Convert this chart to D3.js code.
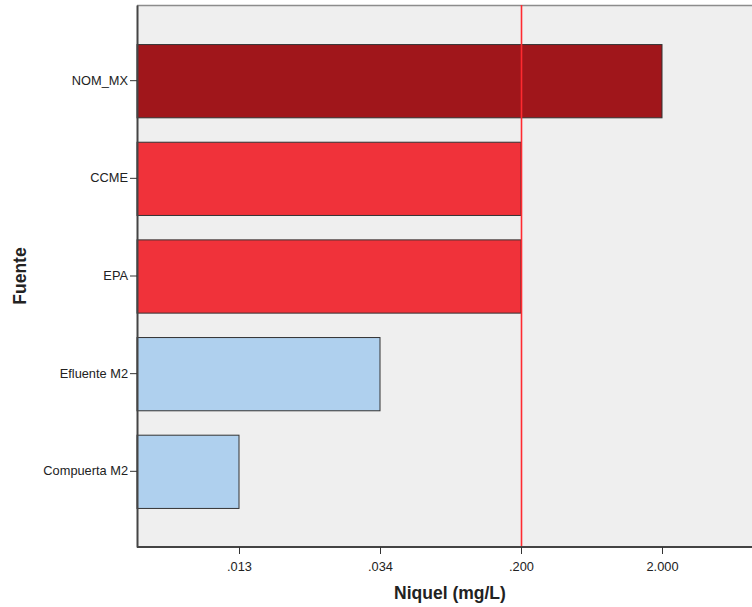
<!DOCTYPE html>
<html><head><meta charset="utf-8">
<script src="https://cdn.jsdelivr.net/npm/d3@7"></script>
<style>body{margin:0;background:#fff}svg{display:block}</style>
</head><body>
<svg id="c" width="752" height="607"></svg>
<script>
const categories = ["NOM_MX", "CCME", "EPA", "Efluente M2", "Compuerta M2"];
const values = [2.0, 0.2, 0.2, 0.034, 0.013];
const barColors = ["#a0161b", "#f0323a", "#f0323a", "#afd0ee", "#afd0ee"];
const tickValues = [0.013, 0.034, 0.2, 2.0];
const tickLabels = [".013", ".034", ".200", "2.000"];
const refValue = 0.2;
const xTitle = "Niquel (mg/L)";
const yTitle = "Fuente";

(function () {
const svg = d3.select("#c");
const pLeft = 137, pTop = 5, pBottom = 547, pRight = 760;
const font = "'Liberation Sans', Arial, sans-serif";

// piecewise scale: axis equally spaces the observed values
const x = d3.scaleLinear().domain([0].concat(tickValues)).range([137, 239, 380, 521, 662]);
const y = d3.scaleBand().domain(categories).range([pTop, pBottom]).paddingInner(0.25).paddingOuter(0.4);

svg.append("rect").attr("x", pLeft).attr("y", pTop).attr("width", pRight - pLeft).attr("height", pBottom - pTop).attr("fill", "#efefef");
svg.append("line").attr("x1", pLeft).attr("x2", pRight).attr("y1", pTop + 0.5).attr("y2", pTop + 0.5).attr("stroke", "#8c8c8c").attr("stroke-width", 1.5);

svg.selectAll("rect.bar").data(categories).enter().append("rect").attr("class", "bar")
  .attr("x", x(0)).attr("y", d => y(d) + 0.5)
  .attr("width", (d, i) => x(values[i]) - x(0)).attr("height", y.bandwidth())
  .attr("fill", (d, i) => barColors[i]).attr("stroke", "#333").attr("stroke-width", 1);

svg.append("line").attr("x1", x(refValue) + 0.5).attr("x2", x(refValue) + 0.5).attr("y1", pTop).attr("y2", pBottom)
  .attr("stroke", "#ff2a30").attr("stroke-width", 1.6);

const ya = svg.append("g").attr("transform", `translate(${pLeft},0)`).call(d3.axisLeft(y).tickSize(7).tickSizeOuter(0).tickPadding(2));
ya.select(".domain").attr("stroke", "#444").attr("stroke-width", 2);
ya.selectAll(".tick line").attr("stroke", "#333");
ya.selectAll("text").attr("font-family", font).attr("font-size", 12.8).attr("fill", "#222");

const xa = svg.append("g").attr("transform", `translate(0,${pBottom})`)
  .call(d3.axisBottom(x).tickValues(tickValues).tickFormat((d, i) => tickLabels[i]).tickSize(7).tickSizeOuter(0).tickPadding(8));
xa.select(".domain").attr("stroke", "#444").attr("stroke-width", 2).attr("d", `M${pLeft},0H${pRight}`);
xa.selectAll(".tick line").attr("stroke", "#333");
xa.selectAll("text").attr("font-family", font).attr("font-size", 12.8).attr("fill", "#222");

svg.append("text").attr("x", 450).attr("y", 599).attr("text-anchor", "middle")
  .attr("font-family", font).attr("font-weight", "bold").attr("font-size", 17.5).attr("fill", "#222").text(xTitle);
svg.append("text").attr("transform", "translate(26,276) rotate(-90)").attr("text-anchor", "middle")
  .attr("font-family", font).attr("font-weight", "bold").attr("font-size", 17.5).attr("fill", "#222").text(yTitle);
})();
</script>
</body></html>
